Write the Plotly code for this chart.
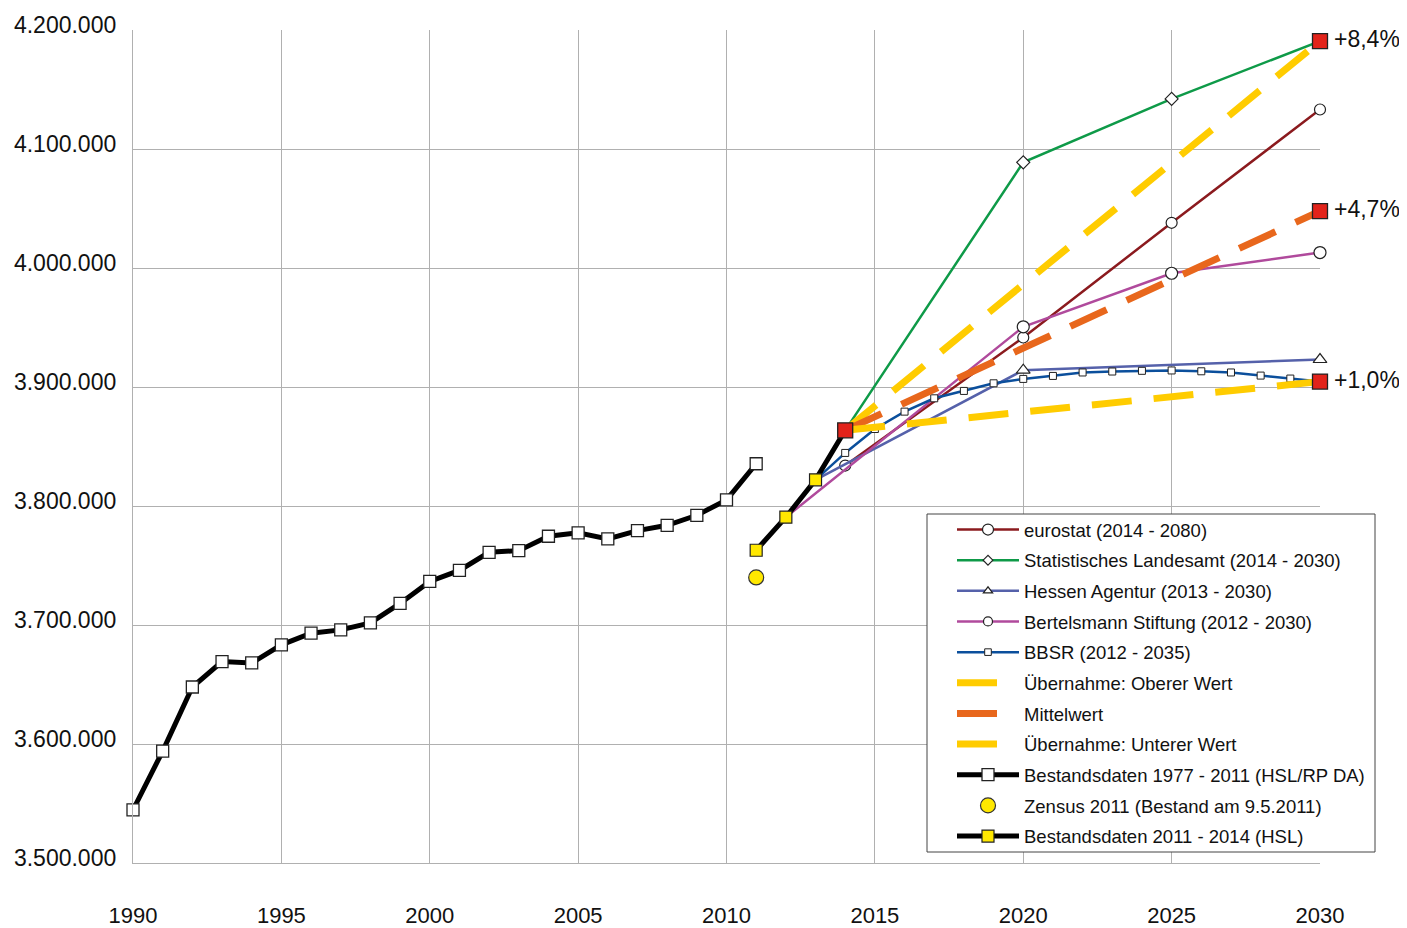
import plotly.graph_objects as go

# ---- data ----
years_hist = list(range(1990, 2012))
bestand_hist = [3544600, 3594000, 3647900, 3669300, 3668100, 3683300, 3693100, 3695900,
                3701800, 3718100, 3736600, 3745900, 3761100, 3762500, 3774600, 3777400,
                3772300, 3779300, 3783800, 3792200, 3805100, 3835500]

zensus_years = [2011]
zensus_vals = [3740000]

years_hsl = [2011, 2012, 2013, 2014]
bestand_hsl = [3762800, 3790600, 3822000, 3863600]

eurostat_years = [2014, 2020, 2025, 2030]
eurostat_vals = [3834000, 3941600, 4038000, 4133200]

landesamt_years = [2014, 2020, 2025, 2030]
landesamt_vals = [3863600, 4088800, 4142100, 4190700]

hessen_years = [2013, 2020, 2030]
hessen_vals = [3822000, 3914100, 3923100]

bertelsmann_years = [2012, 2020, 2025, 2030]
bertelsmann_vals = [3790600, 3950600, 3995600, 4013000]

bbsr_years = list(range(2013, 2031))
bbsr_vals = [3822000, 3844600, 3864700, 3879300, 3890500, 3896700, 3903100, 3906800,
             3909300, 3912200, 3913000, 3913600, 3913900, 3913200, 3912200, 3909600,
             3907100, 3904600]

scen_years = [2014, 2030]
upper_vals = [3863600, 4190700]
mid_vals = [3863600, 4047800]
lower_vals = [3863600, 3904600]

marker_years = [2014, 2030, 2030, 2030]
marker_vals = [3863600, 4190700, 4047800, 3904600]

pct_labels = ["+8,4%", "+4,7%", "+1,0%"]
pct_vals = [4190700, 4047800, 3904600]

y_ticks = [3500000, 3600000, 3700000, 3800000, 3900000, 4000000, 4100000, 4200000]
y_ticktext = ["3.500.000", "3.600.000", "3.700.000", "3.800.000", "3.900.000",
              "4.000.000", "4.100.000", "4.200.000"]
x_ticks = [1990, 1995, 2000, 2005, 2010, 2015, 2020, 2025, 2030]

# ---- style ----
C_EURO = "#8b1a1e"
C_LAND = "#0e9a48"
C_HESS = "#5561aa"
C_BERT = "#b04a9c"
C_BBSR = "#0b4f9c"
C_YEL = "#ffcc00"
C_ORA = "#e8671c"
C_RED = "#e2231a"
C_MARKY = "#ffe800"
NUM_FONT = "Liberation Sans, Arial, sans-serif"
LEG_FONT = "Liberation Sans, Arial, sans-serif"

# page body has an 8px margin: work in page coords minus 8
OFF = 8
W, H = 1407 - OFF, 928 - OFF
L, R, T, B = 133 - OFF, 1320 - OFF, 30 - OFF, 863 - OFF
PW, PH = R - L, B - T

fig = go.Figure()

def sizes(n, s, hide_first=False):
    arr = [s] * n
    if hide_first:
        arr[0] = 0
    return arr

fig.add_trace(go.Scatter(
    x=eurostat_years, y=eurostat_vals, mode="lines+markers", name="eurostat (2014 - 2080)",
    line=dict(color=C_EURO, width=2.5),
    marker=dict(symbol="circle", size=11, color="white", opacity=1,
                line=dict(color="#222", width=1.2)),
    legendrank=1, legendgroup="g1", cliponaxis=False))
fig.add_trace(go.Scatter(
    x=landesamt_years, y=landesamt_vals, mode="lines+markers",
    name="Statistisches Landesamt (2014 - 2030)",
    line=dict(color=C_LAND, width=2.5),
    marker=dict(symbol="diamond", size=sizes(4, 10, True), color="white", opacity=1,
                line=dict(color="#222", width=1.2)),
    legendrank=2, legendgroup="g2", cliponaxis=False))
fig.add_trace(go.Scatter(
    x=hessen_years, y=hessen_vals, mode="lines+markers", name="Hessen Agentur (2013 - 2030)",
    line=dict(color=C_HESS, width=2.5),
    marker=dict(symbol="triangle-up", size=sizes(3, 12, True), color="white", opacity=1,
                line=dict(color="#222", width=1.2)),
    legendrank=3, legendgroup="g3", cliponaxis=False))
fig.add_trace(go.Scatter(
    x=bertelsmann_years, y=bertelsmann_vals, mode="lines+markers",
    name="Bertelsmann Stiftung (2012 - 2030)",
    line=dict(color=C_BERT, width=2.5),
    marker=dict(symbol="circle", size=sizes(4, 12, True), color="white", opacity=1,
                line=dict(color="#222", width=1.2)),
    legendrank=4, legendgroup="g4", cliponaxis=False))
fig.add_trace(go.Scatter(
    x=bbsr_years, y=bbsr_vals, mode="lines+markers", name="BBSR (2012 - 2035)",
    line=dict(color=C_BBSR, width=2.5),
    marker=dict(symbol="square", size=sizes(len(bbsr_years), 7, True), color="white",
                opacity=1, line=dict(color="#222", width=1)),
    legendrank=5, legendgroup="g5", cliponaxis=False))

dash = "40px,22px"
fig.add_trace(go.Scatter(
    x=scen_years, y=upper_vals, mode="lines", name="Übernahme: Oberer Wert",
    line=dict(color=C_YEL, width=7, dash=dash), legendrank=6, legendgroup="g6"))
fig.add_trace(go.Scatter(
    x=scen_years, y=mid_vals, mode="lines", name="Mittelwert",
    line=dict(color=C_ORA, width=7, dash=dash), legendrank=7, legendgroup="g7"))
fig.add_trace(go.Scatter(
    x=scen_years, y=lower_vals, mode="lines", name="Übernahme: Unterer Wert",
    line=dict(color=C_YEL, width=7, dash=dash), legendrank=8, legendgroup="g8"))

fig.add_trace(go.Scatter(
    x=years_hist, y=bestand_hist, mode="lines+markers",
    name="Bestandsdaten 1977 - 2011 (HSL/RP DA)",
    line=dict(color="#000", width=5),
    marker=dict(symbol="square", size=12, color="white", opacity=1,
                line=dict(color="#222", width=1.3)),
    legendrank=9, legendgroup="g9", cliponaxis=False))
fig.add_trace(go.Scatter(
    x=zensus_years, y=zensus_vals, mode="markers", name="Zensus 2011 (Bestand am 9.5.2011)",
    marker=dict(symbol="circle", size=15, color=C_MARKY, opacity=1,
                line=dict(color="#333", width=1.2)),
    legendrank=10, legendgroup="g10"))
fig.add_trace(go.Scatter(
    x=years_hsl, y=bestand_hsl, mode="lines+markers", name="Bestandsdaten 2011 - 2014 (HSL)",
    line=dict(color="#000", width=5),
    marker=dict(symbol="square", size=12, color=C_MARKY, opacity=1,
                line=dict(color="#222", width=1.2)),
    legendrank=11, legendgroup="g11"))

fig.add_trace(go.Scatter(
    x=marker_years, y=marker_vals, mode="markers", showlegend=False,
    marker=dict(symbol="square", size=15, color=C_RED, opacity=1,
                line=dict(color="#222", width=1.3)),
    cliponaxis=False))

for lab, v in zip(pct_labels, pct_vals):
    fig.add_annotation(x=2030, y=v, text=lab, showarrow=False, xanchor="left",
                       xshift=12, yshift=2, font=dict(family=NUM_FONT, size=23, color="#111"))

# legend frame (white box with border)
fig.add_shape(type="rect", xref="paper", yref="paper",
              x0=(927 - OFF - L) / PW, x1=(1375 - OFF - L) / PW,
              y0=(B - (852 - OFF)) / PH, y1=(B - (514 - OFF)) / PH,
              line=dict(color="#444", width=1), fillcolor="white", layer="above")

fig.update_layout(
    width=W, height=H,
    margin=dict(l=L, r=W - R, t=T, b=H - B, autoexpand=False),
    paper_bgcolor="white", plot_bgcolor="white",
    font=dict(family=NUM_FONT, color="#111"),
    legend=dict(
        x=(952 - OFF - L) / PW, y=(B - (511 - OFF)) / PH, xanchor="left", yanchor="top",
        bgcolor="rgba(0,0,0,0)", borderwidth=0,
        font=dict(family=LEG_FONT, size=18.5, color="#111"),
        itemwidth=62, tracegroupgap=3.6,
    ),
    xaxis=dict(
        range=[1990, 2030], tickvals=x_ticks, showgrid=True, gridcolor="#b0b0b0",
        gridwidth=1.3, zeroline=False, showline=True, linecolor="#b0b0b0", linewidth=1.3,
        tickfont=dict(family=NUM_FONT, size=22, color="#111"), ticks="",
        ticklabelstandoff=32, automargin=False,
    ),
    yaxis=dict(
        range=[3500000, 4200000], tickvals=y_ticks, ticktext=y_ticktext, showgrid=True,
        gridcolor="#b0b0b0", gridwidth=1.3, zeroline=False, showline=True,
        linecolor="#b0b0b0", linewidth=1.3,
        tickfont=dict(family=NUM_FONT, size=23, color="#111"), ticks="",
        ticklabelstandoff=11, ticklabelshift=-5, automargin=False,
    ),
)

fig.write_html("out.html")
